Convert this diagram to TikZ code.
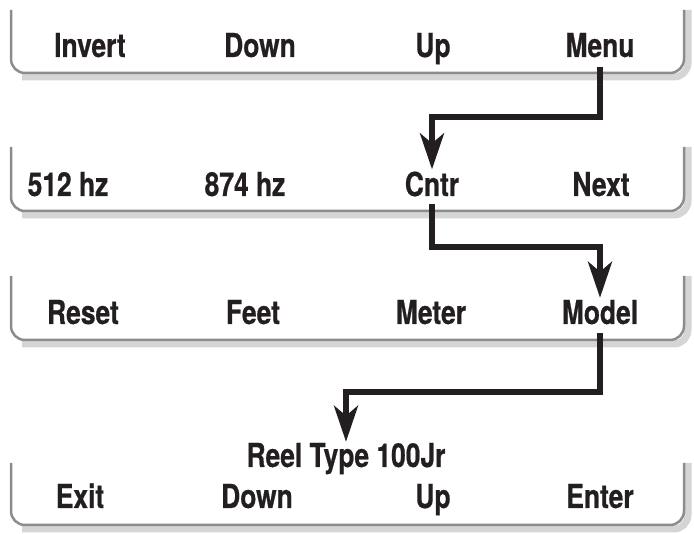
\documentclass[tikz,border=0pt]{standalone}
\usepackage{fontspec}
\newfontfamily\lblfont[FakeStretch=0.8,FakeBold=0.6]{TeX Gyre Heros}
\usetikzlibrary{arrows.meta,calc}
\definecolor{ink}{HTML}{231F20}
\definecolor{frame}{HTML}{8C8C8C}
\definecolor{shade}{HTML}{D5D5D5}
\tikzset{
  lbl/.style={inner sep=0pt, anchor=base, text=ink, font=\lblfont\bfseries\fontsize{33}{36}\selectfont},
  frameline/.style={draw=frame, line width=2.5pt, rounded corners=14pt},
  shadowline/.style={draw=shade, line width=7pt, rounded corners=14pt},
  arr/.style={draw=ink, line width=5.5pt, -{Stealth[length=36pt,width=24pt,inset=10pt]}}
}
\newcommand{\screen}[2]{% top, bottom
  \draw[shadowline] (22,#2+4) -- (688,#2+4) -- (688,#1);
  \draw[frameline] (11,#1) -- (11,#2) -- (684,#2) -- (684,#1);
}
\begin{document}
\begin{tikzpicture}[x=1pt,y=-1pt]
\useasboundingbox (0,0) rectangle (694,534);
\screen{10}{73}
\screen{147}{211}
\screen{276}{340}
\screen{463}{525}

\node[lbl] (invert) at (90,57) {Invert};
\node[lbl] (down1) at (260,57) {Down};
\node[lbl] (up1) at (433,57) {Up};
\node[lbl] (menu) at (600,57) {Menu};

\node[lbl] (hz512) at (68,196) {512 hz};
\node[lbl] (hz874) at (245,196) {874 hz};
\node[lbl] (cntr) at (432,196) {Cntr};
\node[lbl] (next) at (601,196) {Next};

\node[lbl] (reset) at (83,324) {Reset};
\node[lbl] (feet) at (253,324) {Feet};
\node[lbl] (meter) at (431,324) {Meter};
\node[lbl] (model) at (600,324) {Model};

\node[lbl] (reel) at (346,467) {Reel Type 100Jr};
\node[lbl] (exit) at (80,508) {Exit};
\node[lbl] (down4) at (257,508) {Down};
\node[lbl] (up4) at (433,508) {Up};
\node[lbl] (enter) at (600,508) {Enter};

\coordinate (k1) at (600,117);
\coordinate (k2) at (432,247);
\coordinate (k3) at (600,392);
\draw[arr] ([yshift=-10pt]menu.south) |- (k1 -| cntr.north) -- ([yshift=2pt]cntr.north);
\draw[arr] ([yshift=-7pt]cntr.south) |- (k2 -| model.north) -- ([yshift=2pt]model.north);
\draw[arr] ([yshift=-9pt]model.south) |- (k3 -| reel.north) -- ([yshift=1pt]reel.north);
\end{tikzpicture}
\end{document}
